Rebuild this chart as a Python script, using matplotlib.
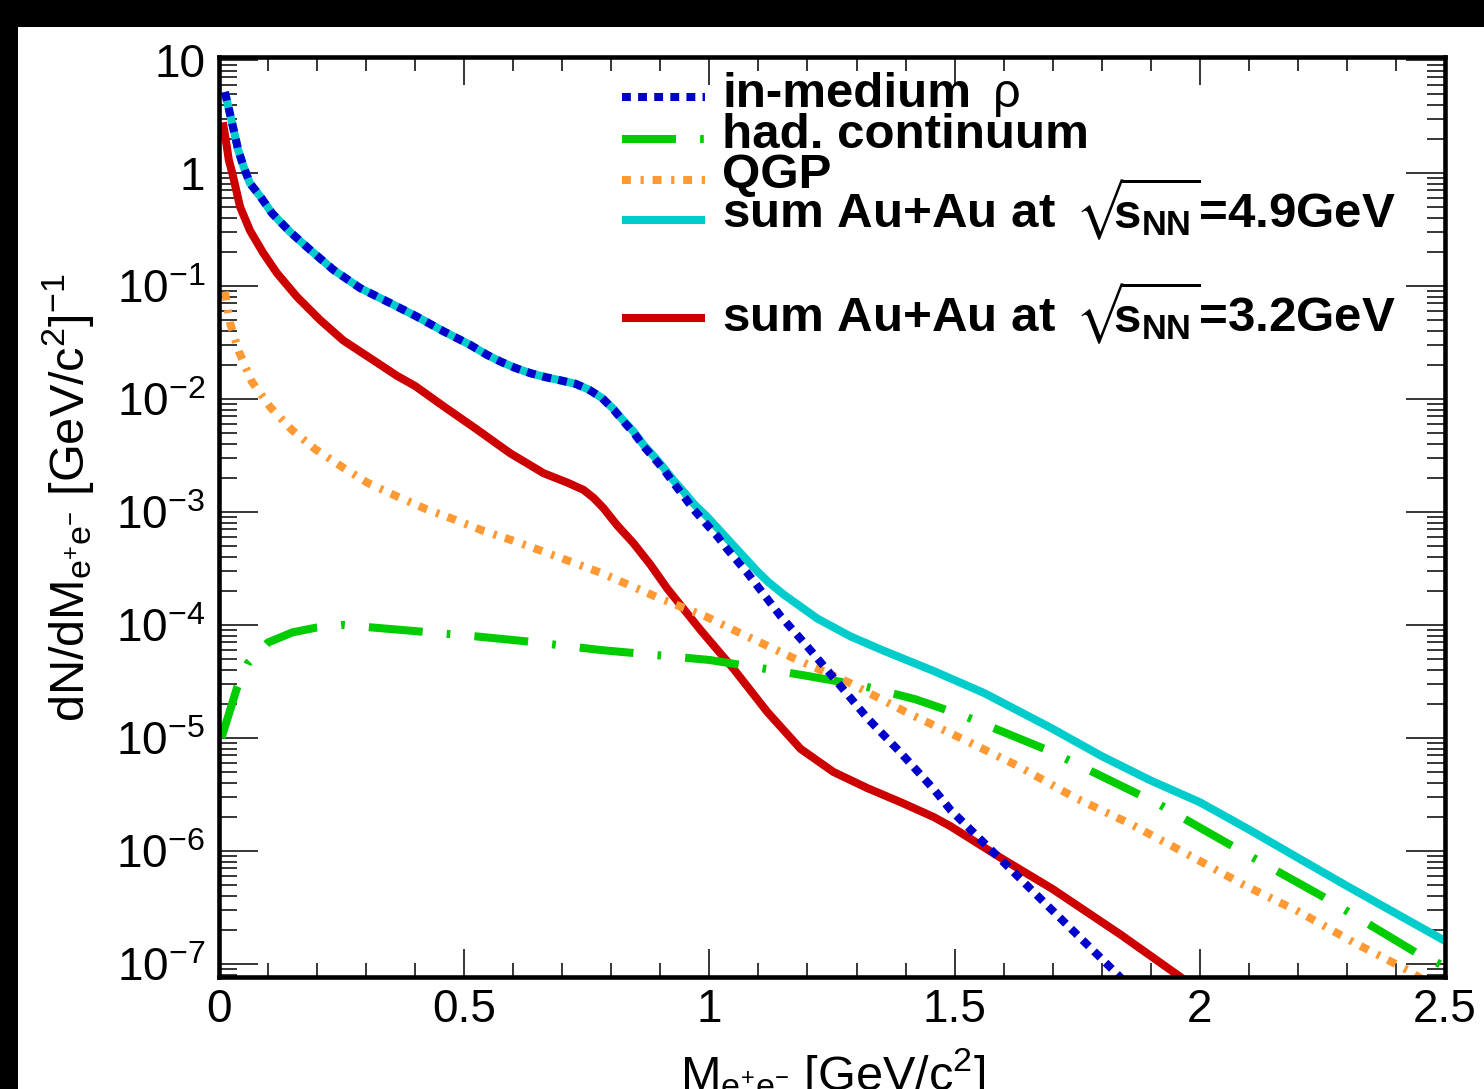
import numpy as np
import matplotlib
matplotlib.use("Agg")
import matplotlib.pyplot as plt
from matplotlib.patches import Rectangle
from matplotlib.lines import Line2D
from matplotlib.ticker import LogLocator, MultipleLocator, NullFormatter

plt.rcParams['font.family'] = ['Liberation Sans', 'DejaVu Sans']
plt.rcParams['mathtext.fontset'] = 'custom'
plt.rcParams['mathtext.rm'] = 'Liberation Sans'
plt.rcParams['mathtext.it'] = 'Liberation Sans:italic'
plt.rcParams['mathtext.bf'] = 'Liberation Sans:bold'
plt.rcParams['mathtext.default'] = 'regular'
plt.rcParams['mathtext.fallback'] = 'stixsans'

# in-medium rho
rho_x = [0.012, 0.019, 0.026, 0.033, 0.039, 0.05, 0.063, 0.084, 0.108, 0.145, 0.186, 0.233,
         0.288, 0.349, 0.403, 0.458, 0.512, 0.546, 0.573, 0.604, 0.635, 0.665, 0.696, 0.727,
         0.754, 0.781, 0.805, 0.825, 0.846, 0.866, 0.887, 0.907, 0.927, 0.948, 0.968, 0.995,
         1.016, 1.036, 1.077, 1.145, 1.199, 1.24, 1.322, 1.39, 1.458, 1.492, 1.56, 1.662,
         1.832, 1.86]
rho_y = [5.2, 3.86, 2.84, 2.1, 1.6, 1.14, 0.81, 0.62, 0.44, 0.30, 0.208, 0.139, 0.0955,
         0.0705, 0.0536, 0.0396, 0.0301, 0.0246, 0.0215, 0.0188, 0.0169, 0.0156, 0.0146,
         0.0136, 0.0121, 0.0102, 0.0080, 0.0063, 0.0050, 0.0038, 0.0030, 0.00237, 0.0018,
         0.00137, 0.00105, 7.7e-4, 6.1e-4, 4.7e-4, 2.9e-4, 1.2e-4, 6.5e-5, 4.0e-5, 1.5e-5,
         7.4e-6, 3.5e-6, 2.3e-6, 1.18e-6, 4.3e-7, 8.1e-8, 6e-8]

# hadronic continuum
had_x = [0.005, 0.037, 0.059, 0.10, 0.15, 0.20, 0.253, 0.312, 0.416, 0.527, 0.635, 0.778,
         1.0, 1.098, 1.206, 1.312, 1.42, 1.522, 1.696, 1.916, 2.067, 2.253, 2.441, 2.5]
had_y = [1.0e-5, 2.8e-5, 4.6e-5, 7.0e-5, 8.6e-5, 9.5e-5, 1.0e-4, 9.5e-5, 8.7e-5, 7.9e-5,
         7.1e-5, 6.0e-5, 4.9e-5, 4.2e-5, 3.5e-5, 2.9e-5, 2.2e-5, 1.55e-5, 7.6e-6, 2.6e-6,
         1.1e-6, 3.9e-7, 1.26e-7, 9.5e-8]

# QGP
qgp_x = [0.012, 0.022, 0.041, 0.067, 0.104, 0.149, 0.196, 0.251, 0.304, 0.363, 0.42, 0.482,
         0.539, 0.598, 0.659, 0.778, 0.896, 0.996, 1.057, 1.171, 1.284, 1.40, 1.516, 1.631,
         1.743, 1.859, 1.976, 2.09, 2.202, 2.314, 2.431, 2.47]
qgp_y = [0.089, 0.048, 0.026, 0.0142, 0.0085, 0.0053, 0.0036, 0.0025, 0.0018, 0.00137,
         0.00107, 8.5e-4, 6.8e-4, 5.6e-4, 4.5e-4, 2.9e-4, 1.74e-4, 1.17e-4, 8.7e-5, 5.1e-5,
         3.1e-5, 1.7e-5, 9.8e-6, 5.6e-6, 3.0e-6, 1.73e-6, 9.3e-7, 5.0e-7, 2.9e-7, 1.55e-7,
         8.5e-8, 6.5e-8]

# sum Au+Au 4.9 GeV
sum49_x = [0.012, 0.019, 0.026, 0.033, 0.039, 0.05, 0.063, 0.084, 0.108, 0.145, 0.186, 0.233,
           0.288, 0.349, 0.403, 0.458, 0.512, 0.546, 0.573, 0.604, 0.635, 0.665, 0.696,
           0.727, 0.754, 0.781, 0.805, 0.825, 0.846, 0.866, 0.887, 0.907, 0.927, 0.948,
           0.968, 0.995, 1.05, 1.097, 1.12, 1.152, 1.22, 1.288, 1.356, 1.458, 1.56, 1.696,
           1.8, 1.9, 2.0, 2.1, 2.2, 2.3, 2.4, 2.5]
sum49_y = [5.2, 3.86, 2.84, 2.1, 1.6, 1.14, 0.81, 0.62, 0.44, 0.30, 0.208, 0.139, 0.0955,
           0.0705, 0.0536, 0.0396, 0.0301, 0.0246, 0.0215, 0.0188, 0.0169, 0.0156, 0.0146,
           0.0136, 0.0121, 0.0102, 0.0081, 0.0064, 0.0051, 0.0039, 0.0031, 0.00245, 0.0019,
           0.0015, 0.00118, 9.1e-4, 5.0e-4, 3.0e-4, 2.4e-4, 1.85e-4, 1.14e-4, 7.9e-5, 5.9e-5,
           3.9e-5, 2.5e-5, 1.23e-5, 6.9e-6, 4.2e-6, 2.7e-6, 1.55e-6, 8.7e-7, 4.9e-7, 2.8e-7,
           1.6e-7]

# sum Au+Au 3.2 GeV
sum32_x = [0.008, 0.016, 0.02, 0.027, 0.043, 0.063, 0.09, 0.118, 0.159, 0.206, 0.253, 0.308,
           0.363, 0.40, 0.458, 0.525, 0.594, 0.662, 0.71, 0.743, 0.764, 0.784, 0.812, 0.845,
           0.88, 0.914, 0.982, 1.049, 1.118, 1.186, 1.253, 1.322, 1.39, 1.457, 1.492, 1.53,
           1.594, 1.7, 1.84, 1.96, 1.98]
sum32_y = [2.8, 1.7, 1.3, 1.0, 0.5, 0.31, 0.196, 0.13, 0.08, 0.05, 0.033, 0.023, 0.016,
           0.0130, 0.0086, 0.0054, 0.0033, 0.0022, 0.00182, 0.00157, 0.00133, 0.00108,
           7.6e-4, 5.3e-4, 3.4e-4, 2.1e-4, 9.0e-5, 4.1e-5, 1.7e-5, 8.0e-6, 5.0e-6, 3.6e-6,
           2.7e-6, 2.0e-6, 1.65e-6, 1.3e-6, 8.7e-7, 4.6e-7, 1.8e-7, 7.7e-8, 6.5e-8]

y_ticks = [1e-7, 1e-6, 1e-5, 1e-4, 1e-3, 1e-2, 1e-1, 1, 10]
y_labels = ['$10^{-7}$', '$10^{-6}$', '$10^{-5}$', '$10^{-4}$', '$10^{-3}$', '$10^{-2}$',
            '$10^{-1}$', '1', '10']
x_ticks = [0, 0.5, 1, 1.5, 2, 2.5]
x_labels = ['0', '0.5', '1', '1.5', '2', '2.5']

W, H = 1484, 1089
fig = plt.figure(figsize=(W / 100, H / 100), dpi=100, facecolor='black')
fig.add_artist(Rectangle((18 / W, 0), 1, 1 - 27 / H, transform=fig.transFigure,
                         facecolor='white', edgecolor='none', zorder=-5))
ax = fig.add_axes([219 / W, 112 / H, 1226 / W, 920 / H])

cyan = '#00cccc'
red = '#cc0000'
blue = '#0000cc'
green = '#00cc00'
orange = '#ff9933'
lw = 5.8

ax.plot(sum49_x, sum49_y, color=cyan, lw=lw, solid_capstyle='butt')
ax.plot(sum32_x, sum32_y, color=red, lw=lw, solid_capstyle='butt')
ax.plot(had_x, had_y, color=green, lw=lw, dashes=(6.7, 3.0, 0.45, 3.0), dash_capstyle='butt')
ax.plot(qgp_x, qgp_y, color=orange, lw=lw, dashes=(1.1, 1.2, 0.4, 1.1), dash_capstyle='butt')
ax.plot(rho_x, rho_y, color=blue, lw=lw, dashes=(1.1, 0.9), dash_capstyle='butt')

ax.set_yscale('log')
ax.set_xlim(0, 2.5)
ax.set_ylim(7.67e-8, 10.6)
ax.set_yticks(y_ticks, labels=y_labels)
ax.yaxis.set_minor_locator(LogLocator(base=10, subs=np.arange(2, 10), numticks=100))
ax.yaxis.set_minor_formatter(NullFormatter())
ax.set_xticks(x_ticks, labels=x_labels)
ax.xaxis.set_minor_locator(MultipleLocator(0.1))

for sp in ax.spines.values():
    sp.set_linewidth(3.3)
ax.tick_params(which='both', direction='in', top=True, right=True, width=1.1, colors='black')
ax.tick_params(axis='y', which='major', length=28, labelsize=33, pad=10)
ax.tick_params(axis='y', which='minor', length=13)
ax.tick_params(axis='x', which='major', length=20, labelsize=33, pad=8)
ax.tick_params(axis='x', which='minor', length=10)

# axis titles
fig.text(68 / W, 1 - 497 / H, r'dN/dM$_{e^{+}e^{-}}$ [GeV/c$^{2}$]$^{-1}$', rotation=90,
         ha='center', va='center', fontsize=35)
fig.text(833 / W, 1 - 1046 / H, r'M$_{e^{+}e^{-}}$ [GeV/c$^{2}$]', ha='center', va='top',
         fontsize=35)

# legend
sq49 = r'sum Au+Au at  $\!\sqrt{\!\!\mathbf{s}_{\mathbf{NN}}}$=4.9GeV'
sq32 = r'sum Au+Au at  $\!\sqrt{\!\!\mathbf{s}_{\mathbf{NN}}}$=3.2GeV'
entries = [
    (blue, (1.1, 0.9), 'in-medium', 97, 107),
    (green, (6.7, 3.0, 0.45, 3.0), 'had. continuum', 139, 148),
    (orange, (1.1, 1.2, 0.4, 1.1), 'QGP', 180, 188),
    (cyan, None, sq49, 220, 228),
    (red, None, sq32, 318, 332),
]
for col, dsh, lab, yl, yb in entries:
    ln = Line2D([622 / W, 705 / W], [1 - yl / H, 1 - yl / H], transform=fig.transFigure,
                color=col, lw=lw, solid_capstyle='butt', dash_capstyle='butt')
    if dsh is not None:
        ln.set_dashes(dsh)
    fig.add_artist(ln)
    fig.text(722 / W, 1 - yb / H, lab, fontsize=35.5, fontweight='bold', va='baseline')
fig.text(993 / W, 1 - 107 / H, '\u03c1', fontsize=35, va='baseline')

fig.savefig('out.png', dpi=100, facecolor=fig.get_facecolor())
